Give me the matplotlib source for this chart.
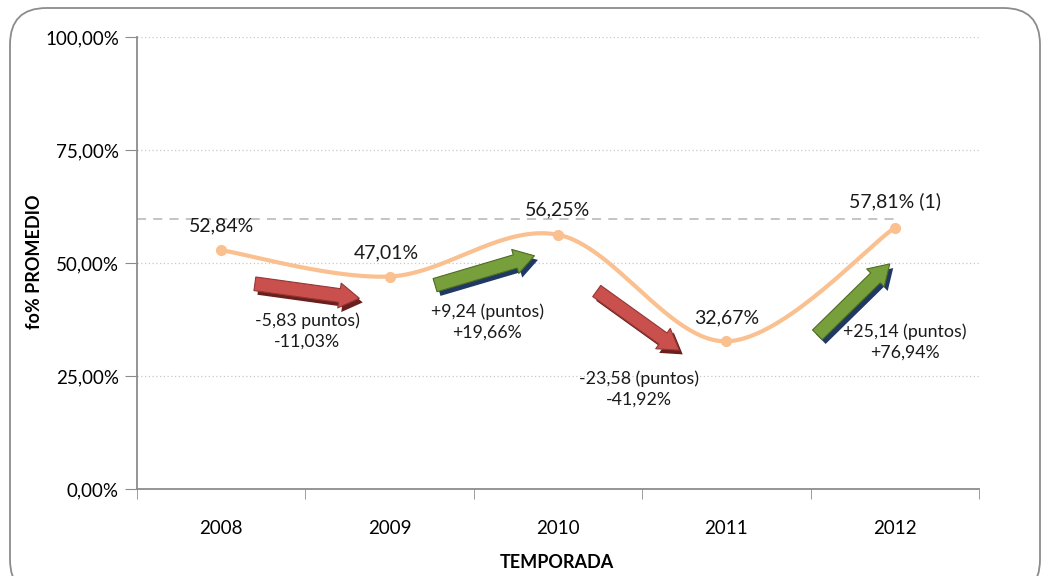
import matplotlib
matplotlib.use("Agg")
import matplotlib.pyplot as plt
import numpy as np
from matplotlib.patches import FancyBboxPatch
import matplotlib.patheffects as pe

# ---- data ----
years = ["2008", "2009", "2010", "2011", "2012"]
values = [52.84, 47.01, 56.25, 32.67, 57.81]
value_labels = ["52,84%", "47,01%", "56,25%", "32,67%", "57,81% (1)"]
yticks = [0, 25, 50, 75, 100]
ytick_labels = ["0,00%", "25,00%", "50,00%", "75,00%", "100,00%"]
reference_level = 59.7
change_labels = ["-5,83 puntos)\n-11,03%", "+9,24 (puntos)\n+19,66%",
                 "-23,58 (puntos)\n-41,92%", "+25,14 (puntos)\n+76,94%"]
change_label_pos = [(0.51, 35.0), (1.58, 37.0), (2.48, 22.1), (4.06, 32.5)]
# decorative arrows (tail -> tip, data coords)
arrow_tails = [(0.20, 45.4), (1.27, 45.1), (2.23, 43.8), (3.54, 34.1)]
arrow_tips = [(0.82, 42.2), (1.86, 51.6), (2.72, 30.7), (3.97, 49.8)]
arrow_up = [False, True, False, True]

plt.rcParams['font.family'] = ['Lato', 'DejaVu Sans']

W, H = 1042, 576
fig = plt.figure(figsize=(W / 100, H / 100), dpi=100)
ax = fig.add_axes([137 / W, 1 - 489 / H, (979 - 137) / W, (489 - 37) / H])

# border
border = FancyBboxPatch((10 / W, -20 / H), (1030 / W), (H - 8 + 20) / H,
                        boxstyle="round,pad=0,rounding_size=0.035",
                        transform=fig.transFigure, fc="none", ec="#8C8C8C",
                        lw=1.3, mutation_aspect=W / H, clip_on=False)
fig.patches.append(border)

# Excel-like smoothed curve (Catmull-Rom Bezier)
x = np.arange(len(values), dtype=float)
y = np.array(values)
P = np.column_stack([x, y])
curve = []
n = len(P)
for i in range(n - 1):
    p0 = P[i]
    p3 = P[i + 1]
    pm = P[i - 1] if i > 0 else P[i]
    pp = P[i + 2] if i + 2 < n else P[i + 1]
    c1 = p0 + (p3 - pm) / 6.0
    c2 = p3 - (pp - p0) / 6.0
    t = np.linspace(0, 1, 60)[:, None]
    seg = ((1 - t) ** 3) * p0 + 3 * ((1 - t) ** 2) * t * c1 + 3 * (1 - t) * t ** 2 * c2 + t ** 3 * p3
    curve.append(seg if i == 0 else seg[1:])
curve = np.vstack(curve)

ax.set_xlim(-0.5, len(years) - 0.5)
ax.set_ylim(0, 100)

for yt in yticks[1:]:
    ax.axhline(yt, color="#C8C8C8", lw=0.9, ls=(0, (1, 2)), zorder=1)
ax.plot([-0.5, 4.0], [reference_level, reference_level], color="#BFBFBF",
        lw=1.3, ls=(0, (5, 4)), zorder=1)

ax.plot(curve[:, 0], curve[:, 1], color="#FAC090", lw=3, zorder=3,
        solid_capstyle="round")
ax.plot(x, y, "o", color="#FAC090", ms=7, zorder=4)

label_offsets = [(0, 5.4), (-0.02, 5.2), (0.0, 5.5), (0.0, 5.2), (0.0, 5.8)]
for xi, yi, lab, off in zip(x, y, value_labels, label_offsets):
    ax.text(xi + off[0], yi + off[1], lab, ha="center", va="center",
            fontsize=14, color="#1a1a1a", zorder=6)

for (tx, ty), (hx, hy), up in zip(arrow_tails, arrow_tips, arrow_up):
    fc = "#77A03C" if up else "#C9504D"
    ec = "#4F6B22" if up else "#943634"
    sh = "#1F3864" if up else "#6B1F1D"
    ax.annotate("", xy=(hx, hy), xytext=(tx, ty),
                arrowprops=dict(arrowstyle="simple,head_length=0.8,head_width=1.0,tail_width=0.55",
                                fc=fc, ec=ec, lw=0.8, mutation_scale=18,
                                shrinkA=0, shrinkB=0,
                                path_effects=[pe.SimplePatchShadow(offset=(2.5, -3), shadow_rgbFace=sh, alpha=1),
                                              pe.Normal()]),
                zorder=5)

for (lx, ly), lab in zip(change_label_pos, change_labels):
    ax.text(lx, ly, lab, ha="center", va="center", fontsize=12.8,
            color="#1a1a1a", linespacing=1.35, zorder=6)

ax.set_yticks(yticks)
ax.set_yticklabels(ytick_labels, fontsize=13.5)
ax.set_xticks(x)
ax.set_xticklabels(years, fontsize=13.5)
ax.set_xticks(np.arange(-0.5, len(years)), minor=True)
ax.tick_params(axis="x", which="major", length=0, pad=22)
ax.tick_params(axis="x", which="minor", length=7, color="#8C8C8C", direction="out")
ax.tick_params(axis="y", length=9, color="#8C8C8C", direction="out", pad=4)
for s in ["top", "right"]:
    ax.spines[s].set_visible(False)
for s in ["left", "bottom"]:
    ax.spines[s].set_color("#8C8C8C")
    ax.spines[s].set_linewidth(1.3)

fig.text(35 / W, 1 - 262 / H, "fo% PROMEDIO", rotation=90, ha="center",
         va="center", fontsize=13, fontweight="bold")
fig.text(557 / W, 1 - 562 / H, "TEMPORADA", ha="center", va="center",
         fontsize=13, fontweight="bold")

fig.savefig("out.png", dpi=100)
